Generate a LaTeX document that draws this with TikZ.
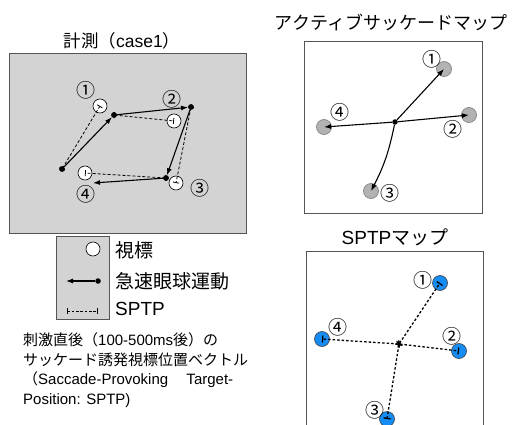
\documentclass[tikz,border=0pt]{standalone}
\usepackage{fontspec}
\setmainfont{Noto Sans CJK JP}
\newfontfamily\latfont{Liberation Sans}
\usetikzlibrary{arrows.meta}
\definecolor{panelgray}{RGB}{211,211,211}
\definecolor{framegray}{RGB}{85,85,85}
\definecolor{targetgray}{RGB}{178,178,178}
\definecolor{sptpblue}{RGB}{22,140,245}
\begin{document}
\begin{tikzpicture}[x=1pt, y=-1pt,
  frame/.style={draw=framegray, line width=1pt},
  target/.style={circle, draw=black, fill=white, line width=0.6pt, minimum size=14pt, inner sep=0pt},
  graytarget/.style={circle, draw=black!45, fill=targetgray, line width=0.8pt, minimum size=15pt, inner sep=0pt},
  bluetarget/.style={circle, draw=black!75, fill=sptpblue, line width=0.6pt, minimum size=15pt, inner sep=0pt},
  num/.style={font=\fontsize{19}{19}\selectfont, inner sep=0pt},
  dot/.style={circle, fill=black, minimum size=5.5pt, inner sep=0pt},
  saccade/.style={line width=1.1pt, -{Latex[length=7pt,width=5pt]}},
  sptp/.style={line width=0.8pt, dash pattern=on 3pt off 2pt, {Bar[width=6pt]}-{Bar[width=6pt]}},
  sptpmap/.style={line width=1.3pt, dash pattern=on 2.5pt off 2pt, {Bar[width=7pt]}-{Bar[width=7pt]}},
  title/.style={font=\fontsize{17.5}{17.5}\selectfont, inner sep=0pt},
  legendtext/.style={font=\fontsize{19}{19}\selectfont, anchor=west, inner sep=0pt},
  caption/.style={font=\fontsize{15}{15}\selectfont, anchor=west, inner sep=0pt},
]
\useasboundingbox (0,0) rectangle (514,425);
\clip (0,0) rectangle (514,425);

% left panel
\node[title] (titleA) at (122,41) {計測（{\latfont case1}）};
\path[frame, fill=panelgray] (9,54) rectangle (246,233);

\node[target] (t1) at (100,106) {};
\node[target] (t2) at (174,121) {};
\node[target] (t3) at (176,183) {};
\node[target] (t4) at (85,173) {};
\node[num] (n1) at (86,90) {①};
\node[num] (n2) at (172,99) {②};
\node[num] (n3) at (200,188) {③};
\node[num] (n4) at (86,194) {④};

\node[dot] (s0) at (62,169) {};
\node[dot] (s1) at (114,115) {};
\node[dot] (s2) at (191,107) {};
\node[dot] (s3) at (166,178) {};
\coordinate (s4) at (93,183);

\draw[sptp] (s0.center) -- (t1.center);
\draw[sptp] (s1.center) -- (t2.center);
\draw[sptp] (s2.center) -- (t3.center);
\draw[sptp] (s3.center) -- (t4.center);

\draw[saccade] (s0) -- (s1);
\draw[saccade] (s1) -- (s2);
\draw[saccade] (s2) -- (s3);
\draw[saccade] (s3) -- (s4);
\node[dot] at (s0) {};
\node[dot] at (s1) {};
\node[dot] at (s2) {};
\node[dot] at (s3) {};

% legend
\path[frame, fill=panelgray] (56,236) rectangle (109,319);
\node[target] (legtarget) at (93,249) {};
\node[dot] (legdot) at (98,281) {};
\coordinate (legtip) at (66,281);
\draw[saccade] (legdot) -- (legtip);
\coordinate (legA) at (67,311);
\coordinate (legB) at (98,311);
\draw[sptp, line width=0.7pt, dash pattern=on 2.5pt off 1.8pt] (legA) -- (legB);
\node[legendtext] (legt1) at (115,250) {視標};
\node[legendtext] (legt2) at (115,281) {急速眼球運動};
\node[legendtext] (legt3) at (115,309) {\latfont SPTP};

\node[caption] (cap1) at (23,340) {\makebox[220pt][s]{刺激直後（{\latfont 100-500ms}後）の}};
\node[caption] (cap2) at (23,360) {\makebox[222pt][s]{サッケード誘発視標位置ベクトル}};
\node[caption] (cap3) at (23,380) {\makebox[210pt][l]{（{\latfont Saccade-Provoking}\hfill{\latfont Target-}}};
\node[caption] (cap4) at (23,401) {\latfont Position: SPTP)};

% active saccade map
\node[title, font=\fontsize{18}{18}\selectfont] (titleB) at (391,22) {アクティブサッケードマップ};
\path[frame, fill=white] (304,42) rectangle (482,213);
\node[graytarget] (g1) at (444,69) {};
\node[graytarget] (g2) at (469,115) {};
\node[graytarget] (g3) at (371,191) {};
\node[graytarget] (g4) at (324,127) {};
\node[num] (m1) at (432,59) {①};
\node[num] (m2) at (453,129) {②};
\node[num] (m3) at (390,193) {③};
\node[num] (m4) at (340,112) {④};
\node[dot] (c) at (395,122) {};
\draw[saccade] (c) -- (g1.center);
\draw[saccade] (c) -- (g2.center);
\draw[saccade] (c) to[bend left=8] (g3.center);
\draw[saccade] (c) -- (g4.center);

% SPTP map
\node[title, font=\fontsize{19}{19}\selectfont] (titleC) at (395,237) {{\latfont SPTP}マップ};
\path[frame, fill=white] (306,251) rectangle (483,440);
\node[bluetarget] (b1) at (440,283) {};
\node[bluetarget] (b2) at (459,351) {};
\node[bluetarget] (b3) at (387,419) {};
\node[bluetarget] (b4) at (322,339) {};
\node[num] (k1) at (423,280) {①};
\node[num] (k2) at (452,336) {②};
\node[num] (k3) at (375,410) {③};
\node[num] (k4) at (338,327) {④};
\coordinate (d) at (399,344);
\draw[sptpmap] (d) -- (b1.center);
\draw[sptpmap] (d) -- (b2.center);
\draw[sptpmap] (d) -- (b3.center);
\draw[sptpmap] (d) -- (b4.center);
\end{tikzpicture}
\end{document}
